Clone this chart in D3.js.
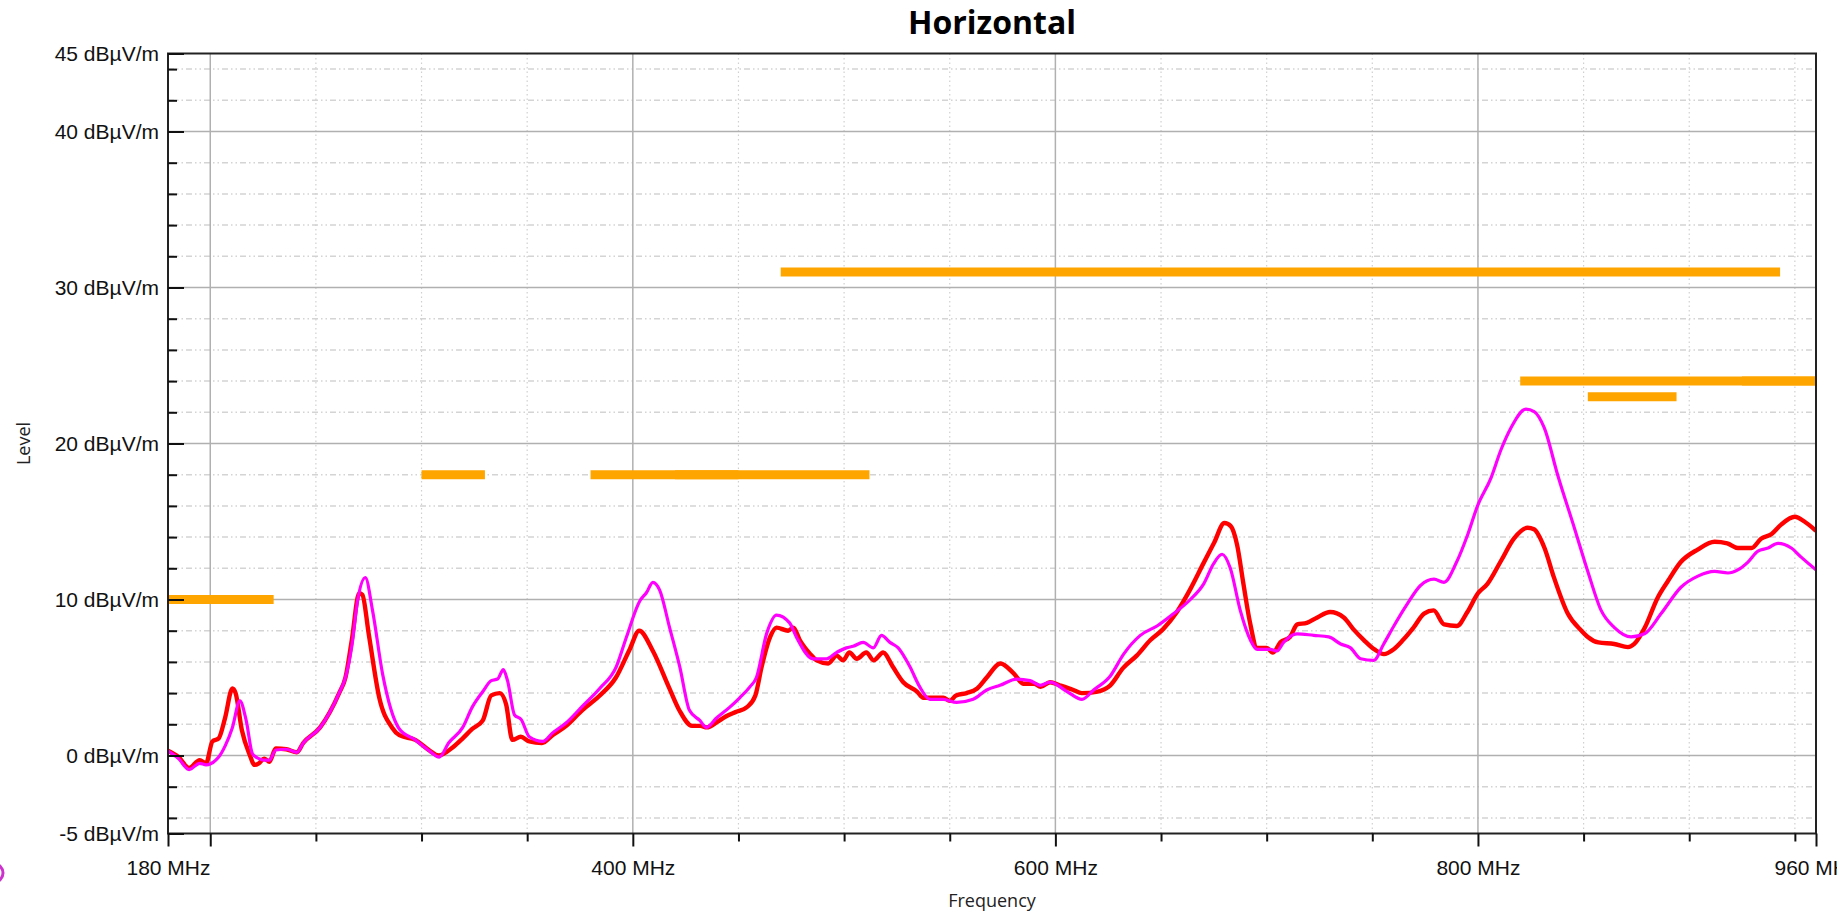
<!DOCTYPE html>
<html>
<head>
<meta charset="utf-8">
<title>Horizontal</title>
<script src="https://cdnjs.cloudflare.com/ajax/libs/d3/7.8.5/d3.min.js"></script>
<style>
    html, body { margin: 0; padding: 0; background: #fff; overflow: hidden; }
    svg { display: block; font-family: "Open Sans", "Noto Sans", sans-serif; }
</style>
</head>
<body>
<div id="chart_01"></div>
<script>
// trace 1 (red)
const redFreq = [180, 185, 190, 195, 198, 201, 204, 207, 210.5, 212,
    215, 218.5, 221, 223, 225.5, 228, 231, 236, 241, 244,
    252, 261, 264, 267, 270.5, 272, 275, 280, 286, 289.5,
    297, 304, 308, 315, 319.5, 324, 329, 333, 337, 340,
    343, 347, 351, 357, 362, 368.5, 376, 384, 392, 398.5,
    403, 409.5, 417, 422, 428, 432, 435, 440, 444, 449,
    454, 458, 461, 465, 468, 473.5, 476, 479, 484, 487,
    492.5, 496.5, 499.5, 502.5, 506, 510.5, 514, 518.5, 523, 528,
    534.5, 537.5, 542, 547, 550, 553, 558, 563, 567.5, 574,
    580, 585, 590, 593, 597.5, 602, 608.5, 612.5, 620, 626,
    632, 638.5, 645, 651, 657.5, 664, 670, 675, 680, 683,
    686, 689, 692, 695.5, 700, 703, 706.5, 711, 714.5, 719,
    724, 730, 736.5, 741, 746, 751, 755.5, 760, 764.5, 769.5,
    774.5, 779, 784, 790, 795, 800, 804.5, 811, 817, 823.5,
    826.5, 831.5, 836, 842.5, 849, 852, 857, 864.5, 871, 874,
    879, 885, 890, 896, 904, 912, 918, 923, 929.5, 934,
    939, 943.5, 950, 954.5, 960];
const redLevel = [0.3, -0.1, -0.8, -0.3, -0.5, 0.9, 1.1, 2.4, 4.3, 4.0,
    1.6, 0.1, -0.6, -0.5, -0.2, -0.4, 0.45, 0.4, 0.2, 0.8,
    1.8, 4.0, 5.0, 7.4, 10.4, 10.3, 7.8, 3.7, 1.8, 1.3,
    1.0, 0.3, 0.0, 0.55, 1.1, 1.7, 2.25, 3.85, 4.0, 3.3,
    1.0, 1.2, 0.9, 0.8, 1.3, 1.9, 2.9, 3.8, 5.0, 6.8,
    8.0, 6.7, 4.4, 2.9, 1.9, 1.9, 1.8, 2.15, 2.5, 2.8,
    3.1, 3.85, 5.7, 7.6, 8.2, 8.0, 8.2, 7.4, 6.5, 6.1,
    5.9, 6.4, 6.1, 6.6, 6.2, 6.6, 6.1, 6.6, 5.7, 4.7,
    4.1, 3.7, 3.7, 3.7, 3.5, 3.85, 4.0, 4.3, 5.0, 5.9,
    5.3, 4.6, 4.6, 4.4, 4.7, 4.5, 4.2, 4.0, 4.1, 4.5,
    5.6, 6.4, 7.4, 8.1, 9.2, 10.7, 12.3, 13.6, 14.9, 14.7,
    13.5, 11.0, 8.6, 6.9, 6.9, 6.6, 7.25, 7.6, 8.4, 8.5,
    8.85, 9.2, 8.85, 8.1, 7.4, 6.8, 6.5, 6.8, 7.4, 8.2,
    9.1, 9.3, 8.4, 8.3, 9.2, 10.4, 11.0, 12.5, 13.9, 14.6,
    14.5, 13.3, 11.4, 9.1, 8.0, 7.6, 7.25, 7.15, 6.95, 7.15,
    8.2, 10.1, 11.2, 12.4, 13.2, 13.7, 13.6, 13.3, 13.3, 13.9,
    14.2, 14.8, 15.3, 15.0, 14.4];

// trace 2 (magenta)
const magFreq = [180, 185, 190, 195, 198, 204, 207, 210.5, 214, 217,
    220, 223, 225.5, 228, 231, 236, 241, 244, 252, 261,
    264, 267, 269.7, 273.4, 276.8, 281.6, 289.5, 297, 303.7, 308.4,
    312.8, 319.5, 324, 329, 333, 336, 338.7, 340.7, 344, 347.2,
    351, 357.4, 362, 368.5, 376.4, 384.3, 392.2, 397, 403.3, 406.5,
    409.5, 412.7, 417.4, 422.2, 426.8, 431.7, 434.8, 439.6, 445.9, 450.6,
    455.4, 458.5, 463.3, 468, 474.2, 477.4, 485.3, 491.6, 496.4, 501.1,
    504.3, 509, 513.8, 517.7, 521.7, 525.6, 531.1, 535.8, 540.6, 546.9,
    553.3, 561.1, 567.5, 573.8, 581.7, 588, 592.8, 597.5, 605.5, 612.6,
    618.1, 626, 632.3, 640.2, 648.1, 656, 663.9, 670.2, 674.9, 678.9,
    682.8, 687.5, 692.3, 695.5, 701.7, 704.9, 708, 714.4, 722.3, 729.4,
    735, 739.7, 744.5, 750.7, 755.4, 760.2, 766.5, 772.8, 779.2, 783.9,
    789.9, 795, 799.8, 806.2, 810.9, 815.6, 822.7, 826.6, 831.4, 837.7,
    845.6, 852, 858.3, 864.6, 872.5, 878.8, 886.7, 896.2, 904.1, 912,
    918.3, 923, 927.8, 932.5, 937.3, 942, 948.3, 953.1, 960];
const magLevel = [0.3, -0.2, -0.9, -0.5, -0.6, -0.1, 0.6, 1.8, 3.5, 2.25,
    0.1, -0.2, -0.3, -0.3, 0.35, 0.4, 0.2, 0.8, 1.8, 4.0,
    5.0, 7.0, 9.9, 11.4, 9.3, 5.2, 1.7, 1.0, 0.3, -0.1,
    0.8, 1.8, 3.1, 4.1, 4.8, 4.9, 5.5, 4.8, 2.6, 2.3,
    1.2, 0.9, 1.45, 2.1, 3.2, 4.3, 5.7, 7.6, 9.9, 10.45,
    11.1, 10.6, 8.2, 5.7, 2.9, 2.25, 1.8, 2.4, 3.1, 3.7,
    4.4, 5.0, 7.8, 9.0, 8.5, 7.6, 6.2, 6.2, 6.6, 6.9,
    7.0, 7.25, 6.9, 7.7, 7.25, 6.9, 5.7, 4.4, 3.6, 3.6,
    3.4, 3.6, 4.2, 4.5, 4.9, 4.8, 4.5, 4.7, 4.1, 3.6,
    4.2, 5.1, 6.5, 7.7, 8.3, 9.1, 10.0, 11.0, 12.3, 12.9,
    12.0, 9.3, 7.4, 6.8, 6.8, 6.7, 7.25, 7.8, 7.7, 7.6,
    7.15, 6.9, 6.2, 6.1, 7.15, 8.3, 9.7, 10.9, 11.3, 11.1,
    12.4, 14.1, 16.0, 17.8, 19.6, 21.0, 22.2, 22.05, 21.0, 18.0,
    14.6, 11.8, 9.3, 8.2, 7.6, 7.8, 9.1, 10.8, 11.5, 11.8,
    11.7, 11.9, 12.4, 13.1, 13.3, 13.6, 13.3, 12.7, 11.9];

// limit lines (orange)
const limitStart = [180, 300, 380, 420, 470, 820, 852, 925];
const limitStop = [230, 330, 450, 512, 943, 960, 894, 960];
const limitLevel = [10, 18, 18, 18, 31, 24, 23, 24];

// axes
const xLabelTicks = [180, 200, 400, 600, 800, 960];
const xMinorTicks = [250, 300, 350, 450, 500, 550, 650, 700, 750, 850, 900, 950];
const yLabelTicks = [-5, 0, 10, 20, 30, 40, 45];
const yMinorTicks = [-4, -2, 2, 4, 6, 8, 12, 14, 16, 18, 22, 24, 26, 28, 32, 34, 36, 38, 42, 44];

window.onload = function () {
    drawChart();
};

function drawChart() {

    let totalWidth = 1837,
        totalHeight = 922;
    let margin = {top: 53.5, left: 168, right: 21, bottom: 88.5},
        width = totalWidth - margin.left - margin.right,
        height = totalHeight - margin.top - margin.bottom;

    let root = d3.select("#chart_01")
        .append("svg")
        .attr("width", totalWidth)
        .attr("height", totalHeight);

    let svg = root.append("g")
        .attr("transform", "translate(" + margin.left + "," + margin.top + ")");

    let x = d3.scaleLinear().domain([180, 960]).range([0, width]);
    let y = d3.scaleLinear().domain([-5, 45]).range([height, 0]);

    // grid: minor horizontal (dash-dot), minor vertical (dotted), major solid
    svg.append("g").selectAll("line")
        .data(yMinorTicks)
        .enter().append("line")
        .attr("x1", 0).attr("x2", width)
        .attr("y1", d => y(d)).attr("y2", d => y(d))
        .attr("stroke", "#d4d4d4")
        .attr("stroke-width", 1.5)
        .attr("stroke-dasharray", "6,3,1.5,3,1.5,3");

    svg.append("g").selectAll("line")
        .data(xMinorTicks)
        .enter().append("line")
        .attr("x1", d => x(d)).attr("x2", d => x(d))
        .attr("y1", 0).attr("y2", height)
        .attr("stroke", "#d0d0d0")
        .attr("stroke-width", 1.2)
        .attr("stroke-dasharray", "1.5,3");

    svg.append("g").selectAll("line")
        .data([0, 10, 20, 30, 40])
        .enter().append("line")
        .attr("x1", 0).attr("x2", width)
        .attr("y1", d => y(d)).attr("y2", d => y(d))
        .attr("stroke", "#b0b0b0")
        .attr("stroke-width", 1.5);

    svg.append("g").selectAll("line")
        .data([200, 400, 600, 800])
        .enter().append("line")
        .attr("x1", d => x(d)).attr("x2", d => x(d))
        .attr("y1", 0).attr("y2", height)
        .attr("stroke", "#b0b0b0")
        .attr("stroke-width", 1.5);

    // limit lines
    svg.append("g").selectAll("line")
        .data(limitLevel)
        .enter().append("line")
        .attr("x1", (d, i) => x(limitStart[i]))
        .attr("x2", (d, i) => x(limitStop[i]))
        .attr("y1", d => y(d)).attr("y2", d => y(d))
        .attr("stroke", "#ffa500")
        .attr("stroke-width", 9);

    // traces
    let clip = root.append("defs").append("clipPath").attr("id", "plotClip");
    clip.append("rect").attr("width", width).attr("height", height);

    let line = d3.line()
        .x(d => x(d[0]))
        .y(d => y(d[1]))
        .curve(d3.curveMonotoneX);

    let traces = svg.append("g").attr("clip-path", "url(#plotClip)");

    traces.append("path")
        .datum(redFreq.map((f, i) => [f, redLevel[i]]))
        .attr("d", line)
        .attr("fill", "none")
        .attr("stroke", "#ff0000")
        .attr("stroke-width", 4.4)
        .attr("stroke-linejoin", "round");

    traces.append("path")
        .datum(magFreq.map((f, i) => [f, magLevel[i]]))
        .attr("d", line)
        .attr("fill", "none")
        .attr("stroke", "#ff00ff")
        .attr("stroke-width", 3.2)
        .attr("stroke-linejoin", "round");

    // border
    svg.append("rect")
        .attr("width", width)
        .attr("height", height)
        .attr("fill", "none")
        .attr("stroke", "#222")
        .attr("stroke-width", 2);

    // y axis (ticks point inward)
    svg.append("g")
        .call(d3.axisLeft(y)
            .tickValues(yLabelTicks)
            .tickSize(-16)
            .tickPadding(9)
            .tickFormat(d => d + " dB\u00b5V/m"));
    svg.append("g")
        .call(d3.axisLeft(y).tickValues(yMinorTicks).tickSize(-9).tickFormat(""));

    // x axis (ticks point outward)
    svg.append("g")
        .attr("transform", "translate(0," + height + ")")
        .call(d3.axisBottom(x)
            .tickValues(xLabelTicks)
            .tickSize(13)
            .tickPadding(14)
            .tickFormat(d => d === 200 ? "" : d + " MHz"));
    svg.append("g")
        .attr("transform", "translate(0," + height + ")")
        .call(d3.axisBottom(x).tickValues(xMinorTicks).tickSize(8).tickFormat(""));

    svg.selectAll(".domain").remove();
    svg.selectAll(".tick line").attr("stroke", "#111").attr("stroke-width", 2);
    svg.selectAll(".tick text")
        .attr("fill", "#111")
        .style("font-size", "21px");

    // titles
    root.append("text")
        .attr("x", margin.left + width / 2)
        .attr("y", 34)
        .attr("text-anchor", "middle")
        .style("font-size", "32px")
        .style("font-weight", "bold")
        .attr("fill", "#000")
        .text("Horizontal");

    root.append("text")
        .attr("x", margin.left + width / 2)
        .attr("y", 907)
        .attr("text-anchor", "middle")
        .style("font-size", "18px")
        .attr("fill", "#222")
        .text("Frequency");

    root.append("text")
        .attr("transform", "translate(30," + (margin.top + height / 2) + ") rotate(-90)")
        .attr("text-anchor", "middle")
        .style("font-size", "18px")
        .attr("fill", "#222")
        .text("Level");

    // clipped legend marker peeking in at the left edge
    root.append("circle")
        .attr("cx", -6)
        .attr("cy", 873)
        .attr("r", 9)
        .attr("fill", "none")
        .attr("stroke", "#cc33cc")
        .attr("stroke-width", 3);
}
</script>
</body>
</html>
